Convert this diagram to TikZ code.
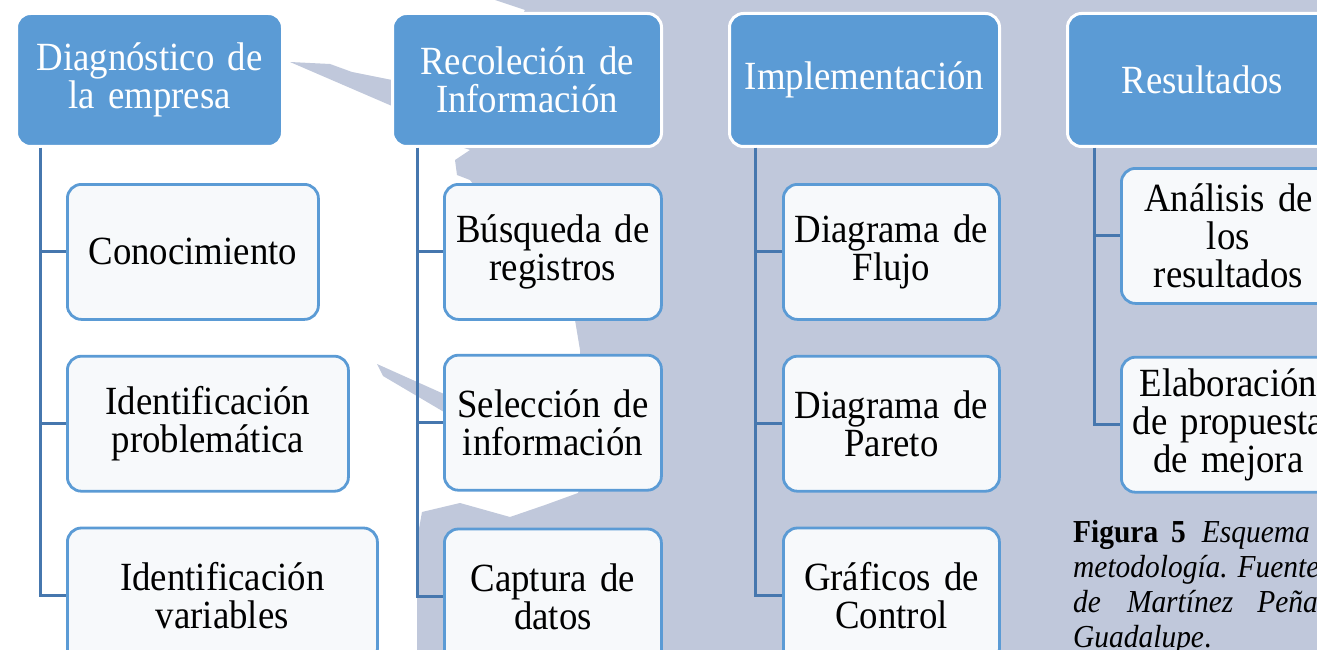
\documentclass[tikz,border=0pt]{standalone}
\usepackage{fontspec}
\setmainfont{Liberation Serif}[FakeStretch=0.92]
\usetikzlibrary{positioning}
\definecolor{phaseblue}{HTML}{5B9BD5}
\definecolor{linkblue}{HTML}{4677AE}
\definecolor{mapgray}{HTML}{C0C8DB}
\definecolor{taskfill}{HTML}{F7F9FB}
\tikzset{
  phase/.style={draw=white, line width=3pt, fill=phaseblue, rounded corners=14pt,
    text=white, align=center, inner sep=0pt, minimum height=133pt, text width=#1,
    font=\fontsize{40}{38}\selectfont},
  phase/.default=268pt,
  task/.style={draw=phaseblue, line width=2.8pt, fill=taskfill, rounded corners=14pt,
    align=center, inner sep=0pt, minimum height=135pt, text width=#1,
    font=\fontsize{40}{38}\selectfont},
  task/.default=216pt,
  link/.style={draw=linkblue, line width=3pt},
}
\begin{document}
\begin{tikzpicture}[x=1pt, y=1pt]
      \useasboundingbox (0,0) rectangle (1317,-650);%
      % Background
      \fill[white] (0,0) rectangle (1317,-650);%
      \fill[mapgray] (495,0) -- (1317,0) -- (1317,-650) -- (417,-650) --
      (417,-540) -- (422,-512) -- (460,-503) -- (510,-517) -- (545,-505) --
      (578,-493) -- (582,-482) -- (580,-350) -- (575,-320) -- (470,-180) --
      (457,-175) -- (455,-160) -- (470,-150) -- (455,-145) -- (525,-10) --
      cycle;%
      \fill[mapgray] (290,-62) -- (330,-64) -- (352,-72) -- (392,-80) --
      (392,-106) -- cycle;%
      \fill[mapgray] (377,-364) -- (444,-394) -- (444,-412) -- (383,-376) --
      cycle;%

      % Phases
      \node [phase=266pt, anchor=north west] (Diag) at (15,-12)
      {Diagn\'ostico de\\la empresa};%
      \node [phase=269pt, anchor=north west] (Rec) at (391,-12)
      {Recoleci\'on de\\Informaci\'on};%
      \node [phase=270pt, anchor=north west] (Impl) at (728,-12)
      {Implementaci\'on};%
      \node [phase=270pt, anchor=north west] (Res) at (1066,-12)
      {Resultados};%

      % Tasks
      % -- Diagnostico
      \node [task=251pt, anchor=north west] (Con) at ([xshift=51pt,
      yshift=-35pt]Diag.south west) {Conocimiento};%
      \node [task=281pt, below=34pt of Con.south west, anchor=north west]
      (IdP) {Identificaci\'on\\problem\'atica};%
      \node [task=310pt, below=34pt of IdP.south west, anchor=north west]
      (IdV) {Identificaci\'on\\variables};%
      % -- Recoleccion
      \node [task=217pt, anchor=north west] (Bus) at ([xshift=52pt,
      yshift=-35pt]Rec.south west) {B\'usqueda de\\registros};%
      \node [task=217pt, below=33pt of Bus.south west, anchor=north west]
      (Sel) {Selecci\'on de\\informaci\'on};%
      \node [task=217pt, below=36pt of Sel.south west, anchor=north west]
      (Cap) {Captura de\\datos};%
      % -- Implementacion
      \node [task, anchor=north west] (Flu) at ([xshift=54pt,
      yshift=-35pt]Impl.south west) {Diagrama de\\Flujo};%
      \node [task, below=34pt of Flu.south west, anchor=north west]
      (Par) {Diagrama de\\Pareto};%
      \node [task, below=34pt of Par.south west, anchor=north west]
      (Gra) {Gr\'aficos de\\Control};%
      % -- Resultados
      \node [task=214pt, anchor=north west] (Ana) at ([xshift=54pt,
      yshift=-19pt]Res.south west) {An\'alisis de\\los\\resultados};%
      \node [task=214pt, below=51pt of Ana.south west, anchor=north west]
      (Ela) {Elaboraci\'on\\de propuesta\\de mejora};%

      % links
      \draw [link] ([xshift=25pt]Diag.south west) |- (Con.west);%
      \draw [link] ([xshift=25pt]Diag.south west) |- (IdP.west);%
      \draw [link] ([xshift=25pt]Diag.south west) |- (IdV.west);%
      \draw [link] ([xshift=26pt]Rec.south west) |- (Bus.west);%
      \draw [link] ([xshift=26pt]Rec.south west) |- (Sel.west);%
      \draw [link] ([xshift=26pt]Rec.south west) |- (Cap.west);%
      \draw [link] ([xshift=27pt]Impl.south west) |- (Flu.west);%
      \draw [link] ([xshift=27pt]Impl.south west) |- (Par.west);%
      \draw [link] ([xshift=27pt]Impl.south west) |- (Gra.west);%
      \draw [link] ([xshift=28pt]Res.south west) |- (Ana.west);%
      \draw [link] ([xshift=28pt]Res.south west) |- (Ela.west);%

      % Caption
      \node [anchor=north west, inner sep=0pt, align=left,
      font=\fontsize{32}{35}\selectfont] (Fig) at (1073,-520)
      {\textbf{Figura}\hspace{13pt}\textbf{5}\hspace{16pt}\textit{Esquema}\\
        \textit{metodolog\'ia. Fuente}\\
        \textit{de}\hspace{26pt}\textit{Mart\'inez}\hspace{24pt}\textit{Pe\~na}\\
        \textit{Guadalupe}.};%
\end{tikzpicture}
\end{document}
